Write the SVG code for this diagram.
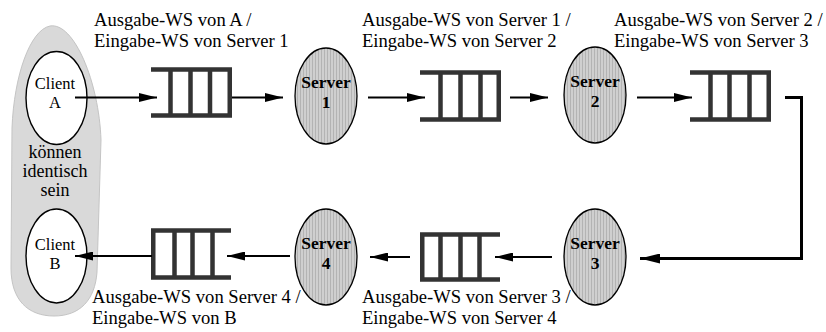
<svg xmlns="http://www.w3.org/2000/svg" width="826" height="332" viewBox="0 0 826 332">
  <defs>
    <!-- fine vertical hatching used inside the server ellipses -->
    <pattern id="hatch" width="3" height="4" patternUnits="userSpaceOnUse">
      <rect width="3" height="4" fill="#cfcfcf"/>
      <rect width="1" height="4" fill="#b3b3b3"/>
    </pattern>
    <marker id="arrow" viewBox="0 0 18 9" refX="18" refY="4.5" markerWidth="18" markerHeight="9" markerUnits="userSpaceOnUse" orient="auto">
      <path d="M0,0 L18,4.5 L0,9 Z" fill="#000"/>
    </marker>
    <marker id="arrowBig" viewBox="0 0 20 10" refX="20" refY="5" markerWidth="20" markerHeight="10" markerUnits="userSpaceOnUse" orient="auto">
      <path d="M0,0 L20,5 L0,10 Z" fill="#000"/>
    </marker>
  </defs>
  <style>
    .lbl { font-family: "Liberation Serif", "Times New Roman", serif; font-size: 18.6px; fill: #000; }
    .ctxt { font-family: "Liberation Serif", "Times New Roman", serif; font-size: 16.5px; fill: #000; text-anchor: middle; }
    .atxt { font-family: "Liberation Serif", "Times New Roman", serif; font-size: 18px; fill: #000; text-anchor: middle; }
    .stxt { font-family: "Liberation Serif", "Times New Roman", serif; font-size: 17.5px; font-weight: bold; fill: #000; text-anchor: middle; }
    .client { fill: #fff; stroke: #000; stroke-width: 1.4; }
    .server { fill: url(#hatch); stroke: #000; stroke-width: 1.3; }
    .queue { fill: none; stroke: #333; stroke-width: 4.5; stroke-linecap: butt; }
    .edge { fill: none; stroke: #000; stroke-width: 2; marker-end: url(#arrow); }
    .edgeBig { fill: none; stroke: #000; stroke-width: 3; marker-end: url(#arrowBig); }
  </style>

  <rect width="826" height="332" fill="#fff"/>

  <!-- shared client area: both clients may be the same process -->
  <g id="client-area">
    <path d="M50,26 C30,30 14,76 12,128 L11,268 C11,300 28,316 54,316 C80,316 95,300 97,272 L101,140 C99,82 74,22 50,26 Z" fill="#d9d9d9" stroke="#c4c4c4" stroke-width="1"/>
    <text class="atxt" x="55" y="158">können</text>
    <text class="atxt" x="55" y="177">identisch</text>
    <text class="atxt" x="55" y="196">sein</text>
  </g>

  <g id="client-a">
    <ellipse class="client" cx="56.5" cy="98" rx="30.5" ry="46.5"/>
    <text class="ctxt" x="55" y="89">Client</text>
    <text class="ctxt" x="55" y="107.5">A</text>
  </g>

  <g id="client-b">
    <ellipse class="client" cx="56.5" cy="256" rx="30.5" ry="47"/>
    <text class="ctxt" x="55" y="250">Client</text>
    <text class="ctxt" x="55" y="268.5">B</text>
  </g>

  <!-- servers -->
  <g id="server-1">
    <ellipse class="server" cx="326" cy="96" rx="31" ry="48"/>
    <text class="stxt" x="326" y="88">Server</text>
    <text class="stxt" x="326" y="107.5">1</text>
  </g>
  <g id="server-2">
    <ellipse class="server" cx="595" cy="95" rx="31" ry="48"/>
    <text class="stxt" x="595" y="87">Server</text>
    <text class="stxt" x="595" y="106.5">2</text>
  </g>
  <g id="server-3">
    <ellipse class="server" cx="595" cy="257" rx="31" ry="48"/>
    <text class="stxt" x="595" y="249">Server</text>
    <text class="stxt" x="595" y="268.5">3</text>
  </g>
  <g id="server-4">
    <ellipse class="server" cx="326" cy="257" rx="31" ry="48"/>
    <text class="stxt" x="326" y="249">Server</text>
    <text class="stxt" x="326" y="268.5">4</text>
  </g>

  <!-- queues (open on the input side) -->
  <g id="queue-1">
    <path class="queue" d="M151,69.5 H232 M151,115.5 H232 M170.5,69.5 V115.5 M190.5,69.5 V115.5 M210,69.5 V115.5 M229.75,69.5 V115.5"/>
  </g>
  <g id="queue-2">
    <path class="queue" d="M420,72.5 H501 M420,119.5 H501 M440.5,72.5 V119.5 M460.5,72.5 V119.5 M480.5,72.5 V119.5 M498.75,72.5 V119.5"/>
  </g>
  <g id="queue-3">
    <path class="queue" d="M690,72.5 H771 M690,119.5 H771 M710.5,72.5 V119.5 M729.5,72.5 V119.5 M749.5,72.5 V119.5 M768.75,72.5 V119.5"/>
  </g>
  <g id="queue-4">
    <path class="queue" d="M420,234.5 H500 M420,279.5 H500 M422.25,234.5 V279.5 M440.5,234.5 V279.5 M460.5,234.5 V279.5 M479.5,234.5 V279.5"/>
  </g>
  <g id="queue-5">
    <path class="queue" d="M151,230.5 H231 M151,277.5 H231 M153.25,230.5 V277.5 M174.5,230.5 V277.5 M192.5,230.5 V277.5 M212.5,230.5 V277.5"/>
  </g>

  <!-- connectors -->
  <g id="connectors">
    <path class="edge" d="M75,97.5 H157"/>
    <path class="edge" d="M232,97.5 H283"/>
    <path class="edge" d="M368,97.5 H425"/>
    <path class="edge" d="M510,97.5 H548"/>
    <path class="edge" d="M637,97.5 H692"/>
    <path class="edgeBig" d="M785,97.5 H801.5 V258.5 H640"/>
    <path class="edge" d="M552,257 H495"/>
    <path class="edge" d="M410,257 H370"/>
    <path class="edge" d="M290,256 H227"/>
    <path class="edge" d="M152,256 H75"/>
  </g>

  <!-- queue labels -->
  <g id="labels">
    <text class="lbl" x="94" y="26">Ausgabe-WS von A /</text>
    <text class="lbl" x="94" y="47">Eingabe-WS von Server 1</text>
    <text class="lbl" x="362" y="26">Ausgabe-WS von Server 1 /</text>
    <text class="lbl" x="362" y="47">Eingabe-WS von Server 2</text>
    <text class="lbl" x="614" y="26">Ausgabe-WS von Server 2 /</text>
    <text class="lbl" x="614" y="47">Eingabe-WS von Server 3</text>
    <text class="lbl" x="92" y="303">Ausgabe-WS von Server 4 /</text>
    <text class="lbl" x="92" y="324">Eingabe-WS von B</text>
    <text class="lbl" x="362" y="303">Ausgabe-WS von Server 3 /</text>
    <text class="lbl" x="362" y="324">Eingabe-WS von Server 4</text>
  </g>
</svg>
